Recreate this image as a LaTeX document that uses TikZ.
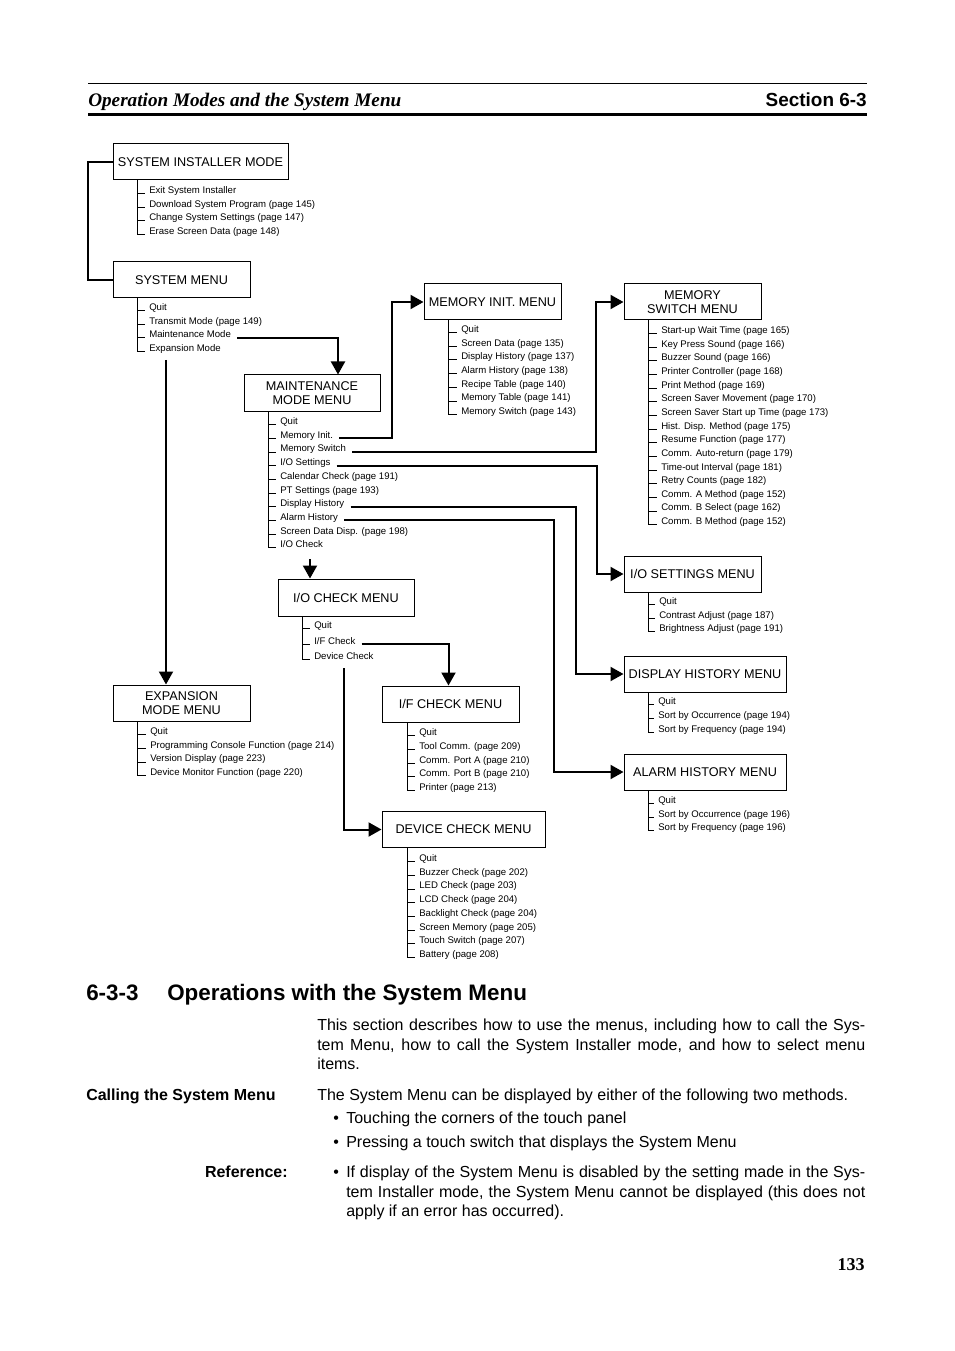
\documentclass[tikz,border=0pt]{standalone}
\usepackage{fontspec}
\setmainfont{Liberation Sans}
\newfontfamily\tnrfont{Liberation Serif}
\usetikzlibrary{arrows.meta}

\tikzset{
  box/.style={draw, line width=0.75pt, minimum height=27pt, inner sep=0pt,
              font=\fontsize{9.5}{10.5}\selectfont, align=center},
  bw/.style={minimum width=#1*0.75pt},
  mitem/.style={anchor=base west, inner xsep=3pt, inner ysep=0pt,
                font=\fontsize{7.2}{8.5}\selectfont},
  tree/.style={line width=0.6pt},
  conn/.style={line width=1.5pt, -{Triangle[length=9.75pt,width=10.5pt]}, shorten <=1.5pt},
  brk/.style={line width=1.2pt},
  txt/.style={anchor=base west, inner sep=0pt, font=\fontsize{12}{14.6}\selectfont},
}

\newcommand\menulist[6]{%
  \coordinate (#1-v) at (#2,0);
  \foreach \mtxt [count=\mi] in {#6} {%
    \node[mitem] (#1-\mi) at ({#3-4},{#4+(\mi-1)*#5}) {\mtxt};
    \draw[tree] (#1-v |- #1-\mi.base west) -- (#1-\mi.base west);
    \xdef\lastidx{\mi}%
  }
  \draw[tree] (#1.south -| #1-v) -- (#1-v |- #1-\lastidx.base west);
}

\begin{document}
\begin{tikzpicture}[x=0.75pt,y=-0.75pt]
\useasboundingbox (0,0) rectangle (954,1351);
\fill[white] (0,0) rectangle (954,1351);

% header
\draw[line width=0.75pt] (88,84) -- (867,84);
\draw[line width=2.8pt] (88,114.5) -- (867,114.5);
\node[anchor=base west, inner sep=0pt, font=\tnrfont\bfseries\itshape\fontsize{14.4}{16}\selectfont] (hdl) at (88,106.5) {Operation Modes and the System Menu};
\node[anchor=base east, inner sep=0pt, font=\bfseries\fontsize{14.2}{16}\selectfont] (hdr) at (867,106.5) {Section 6-3};

% boxes
\node[box,bw=175] (sim) at (200.5,162) {SYSTEM INSTALLER MODE};
\node[box,bw=137] (smenu) at (181.5,280) {SYSTEM MENU};
\node[box,bw=136] (mm) at (312,393) {MAINTENANCE\\MODE MENU};
\node[box,bw=137] (mi) at (492.5,302) {MEMORY INIT. MENU};
\node[box,bw=137] (ms) at (692.5,302) {MEMORY\\SWITCH MENU};
\node[box,bw=137] (ios) at (692.5,574) {I/O SETTINGS MENU};
\node[box,bw=162] (dh) at (705,674) {DISPLAY HISTORY MENU};
\node[box,bw=162] (ah) at (705,772) {ALARM HISTORY MENU};
\node[box,bw=136,minimum height=27.75pt] (ioc) at (346,597.5) {I/O CHECK MENU};
\node[box,bw=137] (exp) at (181.5,703) {EXPANSION\\MODE MENU};
\node[box,bw=137] (ifc) at (450.5,704) {I/F CHECK MENU};
\node[box,bw=163] (dc) at (463.5,829.5) {DEVICE CHECK MENU};

% menu item lists
\menulist{sim}{137}{149}{193.5}{13.6}{Exit System Installer, Download System Program (page 145), Change System Settings (page 147), Erase Screen Data (page 148)}
\menulist{smenu}{137}{149}{310.5}{13.6}{Quit, Transmit Mode (page 149), Maintenance Mode, Expansion Mode}
\menulist{mm}{268}{280}{424.5}{13.7}{Quit, Memory Init., Memory Switch, I/O Settings, Calendar Check (page 191), PT Settings (page 193), Display History, Alarm History, Screen Data Disp. (page 198), I/O Check}
\menulist{mi}{448}{461}{332.5}{13.7}{Quit, Screen Data (page 135), Display History (page 137), Alarm History (page 138), Recipe Table (page 140), Memory Table (page 141), Memory Switch (page 143)}
\menulist{ms}{648}{661}{333.5}{13.65}{Start-up Wait Time (page 165), Key Press Sound (page 166), Buzzer Sound (page 166), Printer Controller (page 168), Print Method (page 169), Screen Saver Movement (page 170), Screen Saver Start up Time (page 173), Hist. Disp. Method (page 175), Resume Function (page 177), Comm. Auto-return (page 179), Time-out Interval (page 181), Retry Counts (page 182), Comm. A Method (page 152), Comm. B Select (page 162), Comm. B Method (page 152)}
\menulist{ios}{648}{659}{604.5}{13.5}{Quit, Contrast Adjust (page 187), Brightness Adjust (page 191)}
\menulist{dh}{648}{658}{704.5}{13.8}{Quit, Sort by Occurrence (page 194), Sort by Frequency (page 194)}
\menulist{ah}{648}{658}{803.5}{13.6}{Quit, Sort by Occurrence (page 196), Sort by Frequency (page 196)}
\menulist{ioc}{302}{314}{628.5}{15.5}{Quit, I/F Check, Device Check}
\menulist{exp}{137}{150}{734.5}{13.7}{Quit, Programming Console Function (page 214), Version Display (page 223), Device Monitor Function (page 220)}
\menulist{ifc}{407}{419}{735.5}{13.75}{Quit, Tool Comm. (page 209), Comm. Port A (page 210), Comm. Port B (page 210), Printer (page 213)}
\menulist{dc}{407}{419}{861.5}{13.7}{Quit, Buzzer Check (page 202), LED Check (page 203), LCD Check (page 204), Backlight Check (page 204), Screen Memory (page 205), Touch Switch (page 207), Battery (page 208)}

% connectors
\draw[brk] (sim.west) -- ++(-24.5,0) |- (smenu.west);
\draw[conn] (smenu-3.base east) -| ([xshift=19.5pt]mm.north);
\coordinate (e0) at (166,358);
\draw[conn] (e0) -- (e0 |- exp.north);
\coordinate (v1) at (392,0);
\coordinate (v2) at (596,0);
\coordinate (v3) at (597,0);
\coordinate (v4) at (576,0);
\coordinate (v5) at (554,0);
\draw[conn] (mm-2.base east) -- (mm-2.base east -| v1) |- (mi.west);
\draw[conn] (mm-3.base east) -- (mm-3.base east -| v2) |- (ms.west);
\draw[conn] (mm-4.base east) -- (mm-4.base east -| v3) |- (ios.west);
\draw[conn] (mm-7.base east) -- (mm-7.base east -| v4) |- (dh.west);
\draw[conn] (mm-8.base east) -- (mm-8.base east -| v5) |- (ah.west);
\coordinate (i0) at (310,557);
\draw[conn] (i0) -- (i0 |- ioc.north);
\draw[conn] (ioc-2.base east) -| ([xshift=-1.5pt]ifc.north);
\coordinate (d0) at (344,666);
\draw[conn] (d0) |- (dc.west);

% section text
\node[anchor=base west, inner sep=0pt, font=\bfseries\fontsize{16.8}{19}\selectfont] (secnum) at (86,1000) {6-3-3};
\node[anchor=base west, inner sep=0pt, font=\bfseries\fontsize{16.8}{19}\selectfont] (sectitle) at (167,1000) {Operations with the System Menu};

\node[txt] (p1a) at (317,1030.5) {\makebox[411pt][s]{This section describes how to use the menus, including how to call the Sys-}};
\node[txt] (p1b) at (317,1050) {\makebox[411pt][s]{tem Menu, how to call the System Installer mode, and how to select menu}};
\node[txt] (p1c) at (317,1069.5) {items.};

\node[txt, font=\bfseries\fontsize{12}{14.6}\selectfont] (call) at (86,1100.5) {Calling the System Menu};
\node[txt] (p2) at (317,1100.5) {The System Menu can be displayed by either of the following two methods.};
\node[txt] (b1) at (333,1123.5) {•};
\node[txt] (b1t) at (346,1123.5) {Touching the corners of the touch panel};
\node[txt] (b2) at (333,1147) {•};
\node[txt] (b2t) at (346,1147) {Pressing a touch switch that displays the System Menu};

\node[txt, anchor=base east, font=\bfseries\fontsize{12}{14.6}\selectfont] (refl) at (288,1177.5) {Reference:};
\node[txt] (b3) at (333,1177.5) {•};
\node[txt] (r1) at (346,1177.5) {\makebox[389.25pt][s]{If display of the System Menu is disabled by the setting made in the Sys-}};
\node[txt] (r2) at (346,1197) {\makebox[389.25pt][s]{tem Installer mode, the System Menu cannot be displayed (this does not}};
\node[txt] (r3) at (346,1216.5) {apply if an error has occurred).};

\node[anchor=base east, inner sep=0pt, font=\tnrfont\bfseries\fontsize{13.5}{16}\selectfont] (pgnum) at (865,1270) {133};
\end{tikzpicture}
\end{document}
